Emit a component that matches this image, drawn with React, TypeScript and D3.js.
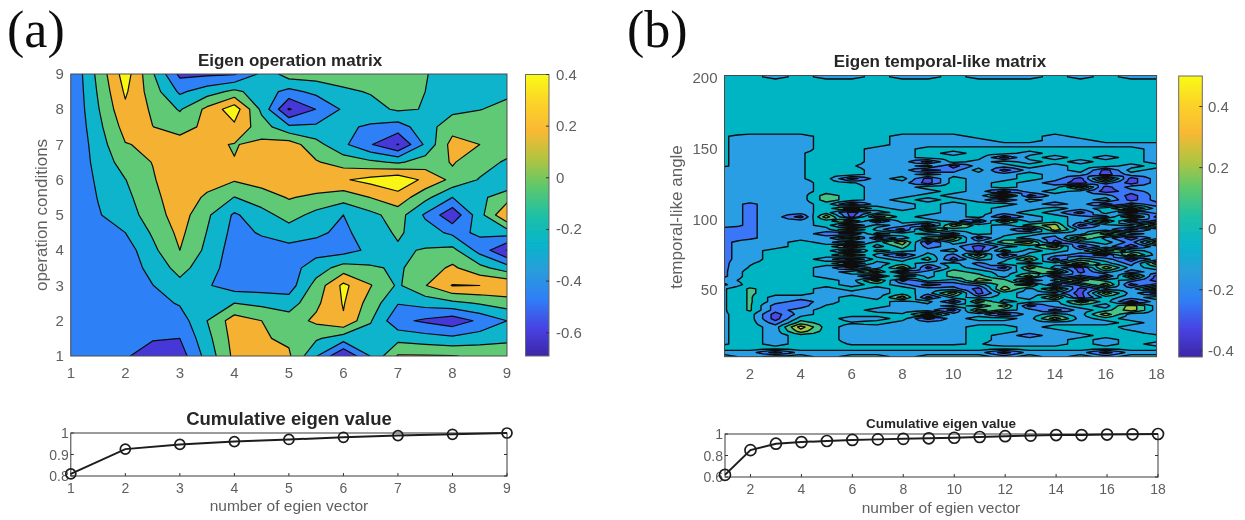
import React from 'react';
import {contours, geoPath, geoTransform, range, scaleLinear, line} from 'd3';

const width = 1245;
const height = 520;

// values
const operationConditions = [9, 8, 7, 6, 5, 4, 3, 2, 1];
const operationVectors = [1, 2, 3, 4, 5, 6, 7, 8, 9];
const operationMatrix = [
  [-0.39, 0.5, -0.45, -0.42, 0.1, 0.1, 0.1, -0.08, -0.1],
  [-0.39, 0.36, -0.02, 0.52, -0.62, -0.17, 0.03, -0.05, 0.04],
  [-0.39, 0.19, 0.28, 0.19, 0.3, -0.16, -0.61, 0.28, 0.12],
  [-0.34, -0.005, 0.36, 0.22, 0.35, 0.38, 0.55, 0.15, -0.18],
  [-0.33, -0.1, 0.3, -0.23, 0.08, -0.2, 0.09, -0.55, 0.4],
  [-0.38, -0.3, 0.2, -0.3, -0.27, -0.28, -0.03, 0.06, -0.61],
  [-0.38, -0.35, -0.06, -0.3, -0.3, 0.45, -0.03, 0.41, 0.39],
  [-0.38, -0.38, -0.3, 0.3, 0.1, 0.38, -0.35, -0.52, -0.2],
  [-0.38, -0.39, -0.5, 0.25, 0.23, -0.6, 0.22, 0.21, 0.12],
];
const operationLevels = [-0.6, -0.4, -0.2, 0, 0.2, 0.4];
const operationColors = ['#3a2ab0', '#4438d6', '#2f80f6', '#0ab4cb', '#60c976', '#f5b233', '#f9f615'];
const operationXTicks = [1, 2, 3, 4, 5, 6, 7, 8, 9];
const operationYTicks = [1, 2, 3, 4, 5, 6, 7, 8, 9];
const operationBarTicks = [0.4, 0.2, 0, -0.2, -0.4, -0.6];

// one character per eigen vector (1..18), one row per angle step
const temporalCodes: Record<string, number> = {
  '.': 0, ',': -0.04, ';': -0.06, '-': -0.1, ':': -0.17, '=': -0.2, '#': -0.3,
  '~': 0.065, '+': 0.1, '*': 0.2, '^': 0.22, '%': 0.3,
};
const temporalAngles = range(201, 0, -3);
const temporalRows = [
  '..-.--.--.---.-.--',
  '..................',
  '..................',
  '..................',
  '..................',
  '..................',
  '..................',
  '..................',
  '..................',
  '..................',
  '..................',
  '..................',
  '..................',
  '..................',
  ',---...---...-....',
  ',---...----..--...',
  ',---...-----------',
  ',---..--.........-',
  ',--;..--.-..-....-',
  ',--;..--...#.-.-.-',
  ',--;..--#.-.-.-..-',
  ',--;.,--.#--.-..-.',
  '---;..--#=.#--.#.-',
  '---;..--.---.--#--',
  '---;.#-.#.--.-#^#-',
  '----.,--#.-.-=#-#-',
  '----..--..-.--^#--',
  '----..---.-#-.-#=-',
  '----+.--.--^#---#-',
  '----+.-.-.-#.--.#-',
  '-:--.#--.-..-=-#-=',
  '-:--.^.-.-.--.-.^-',
  '-:--.#-..-.-.-#.#-',
  '-:-#^#^.--.#-.-=^#',
  '-:--.^#..-#^-.-^#-',
  '-:--.#.-#^.-+*#-.^',
  '=:---^-#^..-#^--#-',
  '=:--=#+.-=.-.--^.-',
  '=:---^#-+^#.-=^-#-',
  ':--.-#.^#.-+^#-.=^',
  ':--..^-+=-#-.^#-#-',
  ':-...#+.-.#+-.-^.-',
  ':-...^-#.=^#.-=#^-',
  ':-..-#.-+#.-^#.-#-',
  ':;...^-.-.=.-.^.=^',
  ':,..-#-^#.-#^-#^-.',
  ':...-.^#-+.-.^#.=-',
  ':...--#^-++-^#-#^#',
  '-....-^#.-*+#.^.-#',
  ':....-.-#=-+^#-^#-',
  ';~..-.-.--#^-^#--^',
  ';~..---.-^#.--#^-#',
  ';~---.-^#.-.-^#.-.',
  ';~-=-..-.#^-.-^.#-',
  ';~==,..--.-^#-.-^-',
  ';~=-..---#^.-#-.^-',
  ';.#-...,^--#-.-^--',
  ';.#..--.#-..-^-.--',
  ';.=+.,.---------.-',
  ';.-%.-----..-...--',
  ';.-*.-----..--..,-',
  ';.-..-----.-=--..,',
  ';.-..-----.---.-..',
  ';.-..;;;;;,---.-.-',
  '..................',
  '--#--------#---#--',
  '.-..-..-...-.-.-..',
];
const temporalLevels = [-0.35, -0.25, -0.15, -0.05, 0.05, 0.15, 0.25];
const temporalColors = ['#3a2ab0', '#4a4ae8', '#3a76f8', '#2a9ee4', '#05b5c3', '#45c48a', '#a0c840', '#e0d030'];
const temporalXTicks = [2, 4, 6, 8, 10, 12, 14, 16, 18];
const temporalYTicks = [50, 100, 150, 200];
const temporalBarTicks = [0.4, 0.2, 0, -0.2, -0.4];

const cumulativeA = [0.81, 0.925, 0.947, 0.96, 0.97, 0.98, 0.988, 0.994, 1];
const cumulativeATicks = [1, 0.9, 0.8];
const cumulativeB = [0.62, 0.85, 0.91, 0.925, 0.935, 0.945, 0.95, 0.955, 0.96, 0.965, 0.972, 0.98, 0.985, 0.99, 0.99, 0.995, 0.997, 1];
const cumulativeBTicks = [1, 0.8, 0.6];

const parula = ['#3e26a8', '#4743e3', '#2f7ef6', '#2a9cdb', '#06b5ca', '#1fc0a5', '#5cc86c', '#b2c440', '#f9b933', '#fcd329', '#f9fb15'];

const tickColor = '#5f5f5f';
const sans = '"Liberation Sans", Arial, sans-serif';

// doubles the grid so each cell gets a centre value, which settles saddles the way contourf does
function withCellCentres(rows: number[][]) {
  const out: number[][] = [];
  for (let j = 0; j < rows.length * 2 - 1; j++) {
    const row: number[] = [];
    for (let i = 0; i < rows[0].length * 2 - 1; i++) {
      const j0 = Math.floor(j / 2);
      const j1 = Math.ceil(j / 2);
      const i0 = Math.floor(i / 2);
      const i1 = Math.ceil(i / 2);
      row.push((rows[j0][i0] + rows[j0][i1] + rows[j1][i0] + rows[j1][i1]) / 4);
    }
    out.push(row);
  }
  return out;
}

function ContourPlot({id, rows, xs, ys, levels, colors, xDomain, yDomain, box, xTicks, yTicks, strokeWidth}) {
  const xScale = scaleLinear().domain(xDomain).range([box.x0, box.x1]);
  const yScale = scaleLinear().domain(yDomain).range([box.y1, box.y0]);
  // repeat the edge rows and columns so the bands run out through the frame
  const padded = [rows[0], ...rows, rows[rows.length - 1]].map((r) => [r[0], ...r, r[r.length - 1]]);
  const fine = withCellCentres(padded);
  const nx = fine[0].length;
  const ny = fine.length;
  const xStep = xs[1] - xs[0];
  const yStep = ys[1] - ys[0];
  const path = geoPath(geoTransform({
    point(cx, cy) {
      this.stream.point(
        xScale(xs[0] + ((cx - 0.5) / 2 - 1) * xStep),
        yScale(ys[0] + ((cy - 0.5) / 2 - 1) * yStep),
      );
    },
  }));
  const bands = contours().size([nx, ny]).smooth(true).thresholds(levels)(fine.flat());

  return (
    <g>
      <clipPath id={id}>
        <rect x={box.x0} y={box.y0} width={box.x1 - box.x0} height={box.y1 - box.y0} />
      </clipPath>
      <g clipPath={`url(#${id})`}>
        <rect x={box.x0} y={box.y0} width={box.x1 - box.x0} height={box.y1 - box.y0} fill={colors[0]} />
        {bands.map((band, i) => (
          <path key={band.value} d={path(band)} fill={colors[i + 1]} stroke="#0a0a0a" strokeWidth={strokeWidth} strokeLinejoin="round" />
        ))}
      </g>
      <rect x={box.x0} y={box.y0} width={box.x1 - box.x0} height={box.y1 - box.y0} fill="none" stroke="#4a4a4a" strokeWidth={1} />
      {xTicks.map((t) => (
        <text key={t} x={xScale(t)} y={box.y1 + 22} textAnchor="middle" fontSize={15} fill={tickColor}>{t}</text>
      ))}
      {yTicks.map((t) => (
        <text key={t} x={box.x0 - 7} y={yScale(t) + 5} textAnchor="end" fontSize={15} fill={tickColor}>{t}</text>
      ))}
    </g>
  );
}

function ColorBar({id, box, domain, ticks, labelX}) {
  const yScale = scaleLinear().domain(domain).range([box.y1, box.y0]);
  const stopOffset = scaleLinear().domain([0, parula.length - 1]).range([100, 0]);
  return (
    <g>
      <linearGradient id={id} x1="0" y1="0" x2="0" y2="1">
        {parula.map((c, i) => <stop key={c} offset={`${stopOffset(i)}%`} stopColor={c} />).reverse()}
      </linearGradient>
      <rect x={box.x0} y={box.y0} width={box.x1 - box.x0} height={box.y1 - box.y0} fill={`url(#${id})`} stroke="#6a6a6a" strokeWidth={1} />
      {ticks.map((t) => (
        <g key={t}>
          <line x1={box.x1 - 3} x2={box.x1} y1={yScale(t)} y2={yScale(t)} stroke="#333" />
          <text x={labelX} y={yScale(t) + 5} fontSize={15} fill={tickColor}>{t}</text>
        </g>
      ))}
    </g>
  );
}

function CumulativePlot({values, yTicks, yDomain, box, xTicks, radius}) {
  const xScale = scaleLinear().domain([1, values.length]).range([box.x0, box.x1]);
  const yScale = scaleLinear().domain(yDomain).range([box.y1, box.y0]);
  const curve = line<number>().x((_, i) => xScale(i + 1)).y((d) => yScale(d));
  return (
    <g>
      <rect x={box.x0} y={box.y0} width={box.x1 - box.x0} height={box.y1 - box.y0} fill="#fff" stroke="#3a3a3a" strokeWidth={1} />
      {xTicks.map((t) => (
        <g key={t}>
          <line x1={xScale(t)} x2={xScale(t)} y1={box.y1} y2={box.y1 - 3} stroke="#333" />
          <text x={xScale(t)} y={box.y1 + 17} textAnchor="middle" fontSize={14} fill={tickColor}>{t}</text>
        </g>
      ))}
      {yTicks.map((t) => (
        <g key={t}>
          <line x1={box.x0} x2={box.x0 + 3} y1={yScale(t)} y2={yScale(t)} stroke="#333" />
          <line x1={box.x1} x2={box.x1 - 3} y1={yScale(t)} y2={yScale(t)} stroke="#333" />
          <text x={box.x0 - 2} y={yScale(t) + 5} textAnchor="end" fontSize={14} fill={tickColor}>{t}</text>
        </g>
      ))}
      <path d={curve(values)} fill="none" stroke="#1c1c1c" strokeWidth={2} />
      {values.map((v, i) => (
        <circle key={i} cx={xScale(i + 1)} cy={yScale(v)} r={radius} fill="none" stroke="#1c1c1c" strokeWidth={1.7} />
      ))}
    </g>
  );
}

export default function App() {
  const temporalMatrix = temporalRows.map((row) => row.split('').map((c) => temporalCodes[c]));
  return (
    <svg width={width} height={height} style={{position: 'absolute', left: 0, top: 0, background: '#fff'}} fontFamily={sans}>
      <defs>
        <filter id="soft" x="0" y="0" width="100%" height="100%">
          <feGaussianBlur stdDeviation="0.45" />
        </filter>
      </defs>
      <g filter="url(#soft)">
        <text x={7} y={47} fontSize={52} fontFamily='"Liberation Serif", serif' fill="#111">(a)</text>
        <text x={627} y={47} fontSize={52} fontFamily='"Liberation Serif", serif' fill="#111">(b)</text>

        <text x={290} y={66} textAnchor="middle" fontSize={17} fontWeight="bold" fill="#262626">Eigen operation matrix</text>
        <ContourPlot
          id="clip-a"
          rows={operationMatrix}
          xs={operationVectors}
          ys={operationConditions}
          levels={operationLevels}
          colors={operationColors}
          xDomain={[1, 9]}
          yDomain={[1, 9]}
          box={{x0: 70.8, x1: 507, y0: 74, y1: 356}}
          xTicks={operationXTicks}
          yTicks={operationYTicks}
          strokeWidth={1.2}
        />
        <text transform="translate(47,215) rotate(-90)" textAnchor="middle" fontSize={17} fill={tickColor}>operation conditions</text>
        <ColorBar id="bar-a" box={{x0: 525.5, x1: 549, y0: 74.5, y1: 356}} domain={[-0.69, 0.4]} ticks={operationBarTicks} labelX={556} />

        <text x={940} y={67} textAnchor="middle" fontSize={17} fontWeight="bold" fill="#262626">Eigen temporal-like matrix</text>
        <ContourPlot
          id="clip-b"
          rows={temporalMatrix}
          xs={range(1, 19)}
          ys={temporalAngles}
          levels={temporalLevels}
          colors={temporalColors}
          xDomain={[1, 18]}
          yDomain={[3, 202]}
          box={{x0: 724.5, x1: 1156.6, y0: 75.5, y1: 356.7}}
          xTicks={temporalXTicks}
          yTicks={temporalYTicks}
          strokeWidth={1.4}
        />
        <text transform="translate(682,217) rotate(-90)" textAnchor="middle" fontSize={17} fill={tickColor}>temporal-like angle</text>
        <ColorBar id="bar-b" box={{x0: 1178.7, x1: 1202.3, y0: 76, y1: 357}} domain={[-0.42, 0.5]} ticks={temporalBarTicks} labelX={1208} />

        <text x={289} y={425} textAnchor="middle" fontSize={18.5} fontWeight="bold" fill="#262626">Cumulative eigen value</text>
        <CumulativePlot values={cumulativeA} yTicks={cumulativeATicks} yDomain={[0.8, 1]} box={{x0: 70.8, x1: 507, y0: 433, y1: 476}} xTicks={operationXTicks} radius={5} />
        <text x={289} y={511} textAnchor="middle" fontSize={15.5} fill={tickColor}>number of egien vector</text>

        <text x={941} y={428} textAnchor="middle" fontSize={13.5} fontWeight="bold" fill="#262626">Cumulative eigen value</text>
        <CumulativePlot values={cumulativeB} yTicks={cumulativeBTicks} yDomain={[0.6, 1]} box={{x0: 725, x1: 1158, y0: 434, y1: 477}} xTicks={temporalXTicks} radius={5.5} />
        <text x={941} y={513} textAnchor="middle" fontSize={15.5} fill={tickColor}>number of egien vector</text>
      </g>
    </svg>
  );
}
